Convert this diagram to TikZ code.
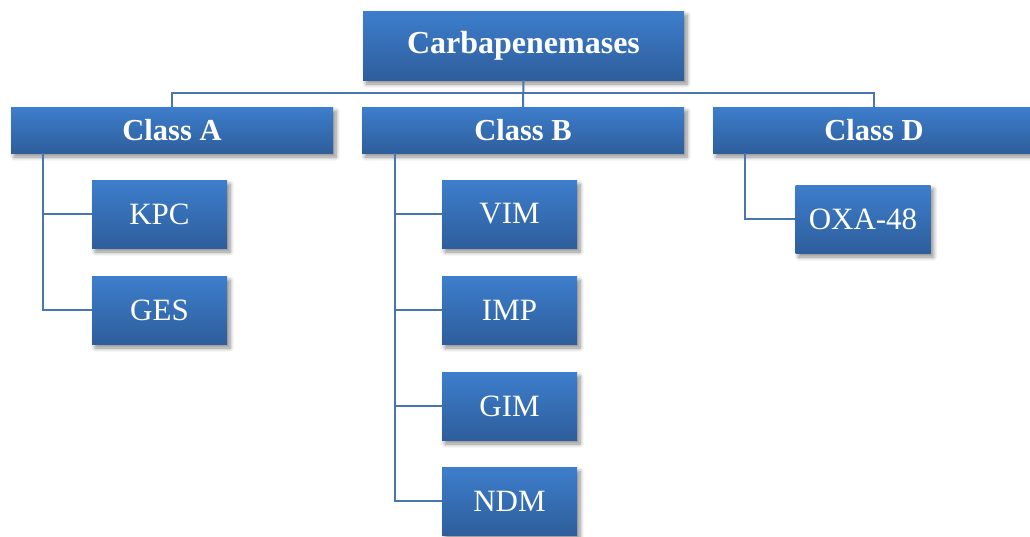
\documentclass[tikz,border=0pt]{standalone}
\usepackage{fontspec}
\setmainfont{Liberation Serif}
\usetikzlibrary{shadows.blur,calc}

\definecolor{boxtop}{HTML}{3D7ECC}
\definecolor{boxbot}{HTML}{2E5E9C}
\definecolor{wire}{HTML}{4A76B0}

\tikzset{
  box/.style={draw=none, top color=boxtop, bottom color=boxbot,
    text=white, inner sep=0pt, align=center,
    font=\fontsize{31}{36}\selectfont,
    blur shadow={shadow xshift=3pt, shadow yshift=-4pt, shadow blur steps=6,
      shadow opacity=45, shadow blur radius=4pt}},
  rootbox/.style={box, minimum width=321pt, minimum height=69pt,
    font=\fontsize{32}{36}\selectfont\bfseries},
  classbox/.style={box, minimum width=322pt, minimum height=46pt,
    font=\fontsize{30.5}{36}\selectfont\bfseries},
  leafbox/.style={box, minimum width=135pt, minimum height=68pt},
  wireline/.style={draw=wire, line width=2pt}
}

\begin{document}
\begin{tikzpicture}[x=1pt,y=-1pt]
  \useasboundingbox (0,0) rectangle (1030,536);

  % root and class level
  \node[rootbox]  (root)   at (523.5,45.5) {Carbapenemases};
  \node[classbox] (classA) at (172,130) {Class A};
  \node[classbox] (classB) at (523,130) {Class B};
  \node[classbox] (classD) at (874,130) {Class D};

  % enzymes
  \node[leafbox] (kpc) at (159.5,214) {KPC};
  \node[leafbox] (ges) at (159.5,310) {GES};
  \node[leafbox] (vim) at (509.5,214) {VIM};
  \node[leafbox] (imp) at (509.5,310) {IMP};
  \node[leafbox] (gim) at (509.5,406) {GIM};
  \node[leafbox] (ndm) at (509.5,501) {NDM};
  \node[leafbox] (oxa) at (863,219) {OXA-48};

  % trunk points below each class box
  \coordinate (ta) at ($(classA.south west)+(32,0)$);
  \coordinate (tb) at ($(classB.south west)+(33,0)$);
  \coordinate (td) at ($(classD.south west)+(32,0)$);

  % connectors
  \draw[wireline] (root.south) -- (classB.north);
  \draw[wireline] (classA.north) -- ++(0,-14) -| (classD.north);
  \draw[wireline] (ta) |- (kpc.west);
  \draw[wireline] (ta) |- (ges.west);
  \draw[wireline] (tb) |- (vim.west);
  \draw[wireline] (tb) |- (imp.west);
  \draw[wireline] (tb) |- (gim.west);
  \draw[wireline] (tb) |- (ndm.west);
  \draw[wireline] (td) |- (oxa.west);
\end{tikzpicture}
\end{document}
